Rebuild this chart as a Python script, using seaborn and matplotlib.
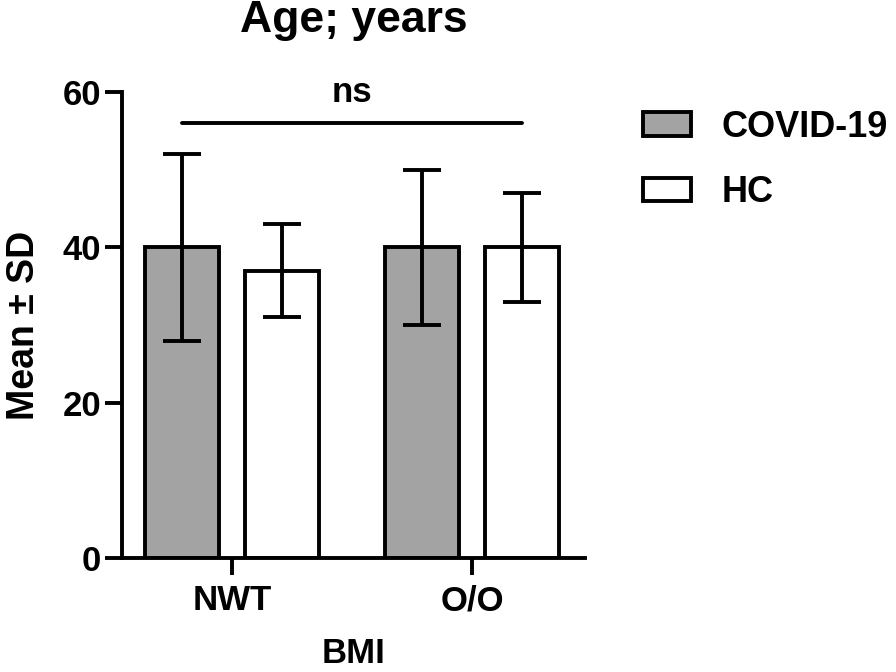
import pandas as pd
import numpy as np
import matplotlib
matplotlib.use("Agg")
import matplotlib.pyplot as plt
import seaborn as sns
from matplotlib.patches import Patch

# data
bmi_groups = ["NWT", "O/O"]
groups = ["COVID-19", "HC"]
mean_covid = [40, 40]
sd_covid = [12, 10]
mean_hc = [37, 40]
sd_hc = [6, 7]

df = pd.DataFrame({
    "BMI": bmi_groups * 2,
    "group": [groups[0]] * 2 + [groups[1]] * 2,
    "mean": mean_covid + mean_hc,
    "sd": sd_covid + sd_hc,
})

sns.set_style("ticks")
plt.rcParams["font.family"] = ["Liberation Sans", "DejaVu Sans"]
plt.rcParams["font.weight"] = "bold"
# plain black everywhere, like the original
for k in ["text.color", "axes.labelcolor", "xtick.color", "ytick.color", "axes.edgecolor"]:
    plt.rcParams[k] = "black"

lw = 2.8
colors = {"COVID-19": "#a3a3a3", "HC": "#ffffff"}

fig = plt.figure(figsize=(8.96, 6.72), dpi=100)
ax = fig.add_axes([0.136, 0.1696, 0.517, 0.6935])

sns.barplot(data=df, x="BMI", y="mean", hue="group", hue_order=groups,
            palette=colors, errorbar=None, width=0.833, gap=0.26,
            edgecolor="black", linewidth=lw, ax=ax, legend=False)

# error bars (mean +/- SD) at bar centres
for bars, g in zip(ax.containers, groups):
    sub = df[df["group"] == g]
    xs = [b.get_x() + b.get_width() / 2 for b in bars]
    ax.errorbar(xs, sub["mean"], yerr=sub["sd"], fmt="none", ecolor="black",
                elinewidth=lw, capsize=13.5, capthick=lw, zorder=5)

# significance line
c0 = ax.containers[0]
c1 = ax.containers[1]
x_left = c0[0].get_x() + c0[0].get_width() / 2
x_right = c1[1].get_x() + c1[1].get_width() / 2
ax.plot([x_left, x_right], [56, 56], color="black", lw=lw, clip_on=False)
ax.text((x_left + x_right) / 2, 58.7, "ns", ha="center", va="baseline",
        fontsize=25, fontweight="bold")

ax.set_ylim(0, 60)
ax.set_xlim(-0.458, 1.47)
ax.set_yticks([0, 20, 40, 60])
sns.despine(ax=ax)
for s in ["left", "bottom"]:
    ax.spines[s].set_linewidth(lw)
ax.tick_params(axis="y", length=12, width=lw, labelsize=25, pad=3)
ax.tick_params(axis="x", length=12, width=lw, labelsize=25, pad=7)

ax.set_xlabel("BMI", fontsize=25, fontweight="bold", labelpad=14)
ax.set_ylabel("Mean ± SD", fontsize=27, fontweight="bold", labelpad=15)
ax.set_title("Age; years", fontsize=32, fontweight="bold", pad=43)

handles = [Patch(facecolor=colors[g], edgecolor="black", linewidth=lw) for g in groups]
fig.legend(handles, groups, loc="upper left", bbox_to_anchor=(0.718, 0.837),
           frameon=False, handlelength=1.33, handleheight=0.64,
           handletextpad=0.83, labelspacing=0.85, borderpad=0, borderaxespad=0,
           prop={"weight": "bold", "size": 26})

fig.savefig("out.png", dpi=100)
